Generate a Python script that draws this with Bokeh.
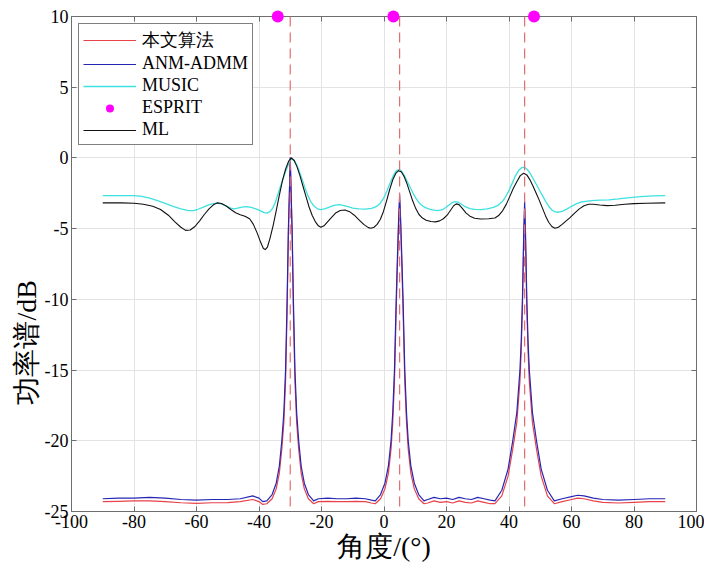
from bokeh.plotting import figure
from bokeh.models import (Span, Legend, LegendItem, LinearAxis, Title, Range1d,
                          FixedTicker)
from bokeh.embed import file_html
from bokeh.resources import INLINE

# ---------------- data ----------------
x_ticks = [-100, -80, -60, -40, -20, 0, 20, 40, 60, 80, 100]
y_ticks = [-25, -20, -15, -10, -5, 0, 5, 10]

true_angles = [-30, 5, 45]

esprit_angle = [-34, 3, 48]
esprit_level = [10, 10, 10]

# fine angle grid used by the two sparse-recovery methods
angle_fine = [
    -90, -85, -80, -75, -70, -65, -60, -55, -50, -46, -42, -40, -38.8,
    -37.5, -35.8, -34.5, -33.5, -32.7, -32.05, -31.5, -31.0, -30.6, -30.28, -30,
    -29.72, -29.4, -29.0, -28.5, -27.95, -27.3, -26.5, -25.5, -24.2, -22.5,
    -21, -18, -15, -12, -9, -6, -4,
    -2.8, -1.1, 0.3, 1.4, 2.25, 2.8, 3.35, 3.9, 4.3, 4.65, 5,
    5.35, 5.7, 6.1, 6.65, 7.2, 7.75, 8.6, 9.7, 11.1, 12.8,
    14, 16, 18, 20, 22, 24, 26, 28, 30, 32, 34,
    35.5, 37.7, 39.7, 41.2, 42.5, 43.5, 43.9, 44.3, 44.7, 45,
    45.3, 45.7, 46.1, 46.5, 47.5, 48.8, 50.3, 52.3, 54.5,
    57, 60, 62, 64, 67, 70, 75, 80, 85, 90,
]

anm_admm_db = [
    -24.1, -24.05, -24.05, -24.0, -24.05, -24.15, -24.2, -24.15, -24.15, -24.1, -23.9, -24.05, -24.3,
    -24.25, -23.8, -23.0, -21.8, -20.0, -18.0, -15.0, -10.0, -5.0, -2.5, 0.0,
    -2.5, -5.0, -10.0, -15.0, -18.0, -20.0, -21.8, -23.0, -23.8, -24.25,
    -24.1, -24.05, -24.1, -24.1, -24.05, -24.1, -24.2,
    -24.25, -23.8, -23.0, -21.8, -20.0, -18.0, -15.0, -10.0, -7.0, -4.5, -2.6,
    -4.5, -7.0, -10.0, -15.0, -18.0, -20.0, -21.8, -23.0, -23.8, -24.25,
    -24.15, -24.0, -24.1, -24.05, -24.15, -24.0, -24.1, -24.15, -24.0, -24.1, -24.2,
    -24.25, -23.5, -22.0, -20.0, -18.0, -15.0, -13.0, -10.0, -5.5, -3.1,
    -5.5, -10.0, -13.0, -15.0, -18.0, -20.0, -22.0, -23.5, -24.25,
    -24.1, -23.95, -23.85, -23.9, -24.05, -24.15, -24.2, -24.15, -24.1, -24.1,
]

proposed_db = [
    -24.3, -24.28, -24.25, -24.25, -24.3, -24.38, -24.42, -24.38, -24.37, -24.3, -24.15, -24.3, -24.5,
    -24.45, -24.1, -23.4, -22.3, -20.6, -18.7, -15.8, -10.8, -5.5, -2.7, 0.0,
    -2.7, -5.5, -10.8, -15.8, -18.7, -20.6, -22.3, -23.4, -24.1, -24.45,
    -24.3, -24.28, -24.3, -24.3, -24.28, -24.3, -24.4,
    -24.45, -24.1, -23.4, -22.3, -20.6, -18.7, -15.8, -10.8, -7.6, -5.0, -3.0,
    -5.0, -7.6, -10.8, -15.8, -18.7, -20.6, -22.3, -23.4, -24.1, -24.45,
    -24.4, -24.25, -24.35, -24.3, -24.4, -24.25, -24.35, -24.4, -24.25, -24.35, -24.45,
    -24.45, -23.9, -22.5, -20.6, -18.7, -15.8, -13.7, -10.6, -6.0, -3.5,
    -6.0, -10.6, -13.7, -15.8, -18.7, -20.6, -22.5, -23.9, -24.45,
    -24.3, -24.15, -24.05, -24.1, -24.25, -24.35, -24.4, -24.35, -24.3, -24.3,
]

ml_angle = [
    -90, -84, -80, -77, -74, -71.5, -69, -67, -65, -63.5, -62, -60.5, -59, -57.5,
    -56, -54.5, -53.4, -52, -50.5, -49, -47.5, -46, -44.5, -43, -41.8, -40.6,
    -39.5, -38.6, -38, -37.3, -36.5, -35.5, -34.5, -33.5, -32.5, -31.5, -30.5,
    -29.6, -28.7, -27.8, -26.9, -26, -25, -24, -23, -22, -21, -20.2, -19.2,
    -18.2, -17, -15.5, -14, -12.5, -11, -9.5, -8, -6.5, -5, -4.2, -3.2, -2.2,
    -1.2, -0.2, 0.8, 1.8, 2.8, 3.8, 4.7, 5.6, 6.5, 7.4, 8.3, 9.2, 10.2, 11.2,
    12.3, 13.5, 15, 16.5, 17.8, 19, 20.2, 21.3, 22.3, 23.1, 24, 25, 26.2, 27.5,
    29, 31, 33.5, 35.5, 36.8, 38, 39.2, 40.3, 41.4, 42.5, 43.6, 44.7, 45.7,
    46.7, 47.7, 48.7, 49.7, 50.7, 51.7, 52.7, 53.7, 54.7, 55.8, 57, 58.3, 59.6,
    61, 62.5, 64, 65.5, 67, 69, 71.4, 74, 77, 80, 84, 90,
]
ml_db = [
    -3.18, -3.18, -3.2, -3.27, -3.42, -3.65, -4.05, -4.5, -4.9, -5.12, -5.1, -4.85, -4.45, -4.0,
    -3.6, -3.3, -3.18, -3.22, -3.4, -3.65, -3.88, -4.02, -4.12, -4.3, -4.7, -5.3,
    -5.95, -6.4, -6.48, -6.3, -5.7, -4.8, -3.75, -2.65, -1.6, -0.8, -0.22,
    0.0, -0.2, -0.65, -1.25, -1.95, -2.7, -3.45, -4.05, -4.5, -4.8, -4.9, -4.8,
    -4.55, -4.25, -3.9, -3.72, -3.68, -3.8, -4.05, -4.38, -4.7, -4.93, -4.97, -4.9, -4.7,
    -4.35, -3.8, -3.05, -2.25, -1.55, -1.08, -0.9, -1.0, -1.35, -1.85, -2.45, -3.05, -3.6, -4.0,
    -4.25, -4.4, -4.5, -4.52, -4.45, -4.3, -4.05, -3.7, -3.38, -3.25, -3.3, -3.55, -3.88, -4.12,
    -4.27, -4.32, -4.3, -4.25, -4.05, -3.72, -3.25, -2.7, -2.15, -1.68, -1.25, -1.08, -1.2,
    -1.55, -2.0, -2.5, -3.0, -3.55, -4.1, -4.55, -4.85, -4.97, -4.9, -4.7, -4.45, -4.2,
    -3.9, -3.6, -3.38, -3.27, -3.27, -3.33, -3.37, -3.35, -3.28, -3.23, -3.2, -3.18,
]

music_angle = [
    -90, -84, -80, -77.5, -75, -72.5, -70, -67.5, -65, -62.5, -61, -59.5, -58,
    -56.5, -55, -53.4, -52, -50.5, -49, -48, -46.8, -45.5, -44, -42.5, -41,
    -39.5, -38.3, -37.4, -36.5, -35.6, -34.8, -34, -33.1, -32.2, -31.3, -30.4,
    -29.6, -28.8, -28, -27.1, -26.2, -25.3, -24.4, -23.4, -22.4, -21.3, -20.3,
    -19, -17.5, -16, -14.5, -13, -11.5, -10, -8, -6, -4, -2.5, -1.2, 0, 1, 2,
    3, 3.9, 4.7, 5.5, 6.4, 7.3, 8.2, 9.2, 10.2, 11.3, 12.5, 14, 15.5, 17, 18.5,
    19.8, 21, 22, 22.8, 23.7, 24.8, 26, 27.5, 29, 31, 33, 35, 36.5, 37.7, 38.8,
    39.9, 41, 42.1, 43.2, 44.1, 44.9, 45.8, 46.8, 47.8, 48.8, 49.8, 50.8, 51.8,
    52.8, 53.8, 54.8, 55.8, 57, 58.5, 60, 61.5, 63, 64.5, 66.5, 69, 72, 75, 78,
    82, 86, 90,
]
music_db = [
    -2.67, -2.66, -2.67, -2.72, -2.85, -3.02, -3.22, -3.43, -3.6, -3.72, -3.72, -3.63, -3.5,
    -3.36, -3.25, -3.2, -3.25, -3.4, -3.55, -3.6, -3.55, -3.48, -3.45, -3.5, -3.6,
    -3.75, -3.87, -3.9, -3.8, -3.55, -3.15, -2.6, -2.0, -1.4, -0.85, -0.35,
    -0.07, -0.15, -0.45, -0.95, -1.5, -2.1, -2.65, -3.1, -3.4, -3.6, -3.65,
    -3.6, -3.48, -3.35, -3.3, -3.35, -3.45, -3.55, -3.6, -3.62, -3.56, -3.45, -3.2, -2.8, -2.3, -1.75,
    -1.25, -0.92, -0.83, -0.9, -1.2, -1.6, -2.0, -2.45, -2.85, -3.2, -3.42, -3.58, -3.68, -3.73, -3.68,
    -3.5, -3.3, -3.14, -3.09, -3.12, -3.28, -3.45, -3.58, -3.64, -3.65, -3.6, -3.5, -3.35, -3.12, -2.8,
    -2.35, -1.8, -1.25, -0.85, -0.68, -0.66, -0.8, -1.1, -1.5, -1.9, -2.3, -2.7, -3.1,
    -3.45, -3.7, -3.82, -3.84, -3.78, -3.62, -3.42, -3.25, -3.13, -3.07, -3.02, -2.98, -2.96, -2.9, -2.82,
    -2.73, -2.69, -2.67,
]

legend_labels = ["本文算法", "ANM-ADMM", "MUSIC", "ESPRIT", "ML"]

# ---------------- style ----------------
SERIF = "Liberation Serif"
AX = "#6e6e6e"
C_RED = "#e8424a"
C_BLUE = "#2626b4"
C_CYAN = "#3fe0e0"
C_BLACK = "#111111"
C_MAG = "#ff00ff"
C_DASH = "#e36e6e"

p = figure(frame_width=625, frame_height=495,
           x_range=Range1d(-100, 100), y_range=Range1d(-25, 10),
           output_backend="svg", toolbar_location=None,
           min_border_left=71, min_border_right=8,
           min_border_top=16, min_border_bottom=52)
p.background_fill_color = "white"
p.border_fill_color = "white"
p.outline_line_color = AX
p.outline_line_width = 1

for ax in (p.xaxis[0], p.yaxis[0]):
    ax.axis_line_color = AX
    ax.major_tick_line_color = AX
    ax.major_tick_in = 5
    ax.major_tick_out = 0
    ax.minor_tick_line_color = None
    ax.major_label_text_font = SERIF
    ax.major_label_text_font_size = "18px"
    ax.major_label_text_color = "black"
    ax.axis_label_text_font = SERIF
    ax.axis_label_text_font_style = "normal"
    ax.axis_label_text_font_size = "28px"
    ax.axis_label_text_color = "black"

p.xaxis[0].ticker = FixedTicker(ticks=x_ticks)
p.yaxis[0].ticker = FixedTicker(ticks=y_ticks)
p.xaxis[0].major_label_overrides = {t: str(t) for t in x_ticks}
p.yaxis[0].major_label_overrides = {t: str(t) for t in y_ticks}
p.xaxis[0].major_label_standoff = 3
p.yaxis[0].major_label_standoff = 3
p.xaxis[0].axis_label = "角度/(°)"
p.xaxis[0].axis_label_standoff = 0

# top and right axes: ticks only
top = LinearAxis(ticker=FixedTicker(ticks=x_ticks))
right = LinearAxis(ticker=FixedTicker(ticks=y_ticks))
for ax in (top, right):
    ax.axis_line_color = AX
    ax.major_tick_line_color = AX
    ax.major_tick_in = 5
    ax.major_tick_out = 0
    ax.minor_tick_line_color = None
    ax.major_label_text_color = None
    ax.major_label_standoff = 0
p.add_layout(top, "above")
p.add_layout(right, "right")

ylab = Title(text="功率谱/dB", align="left", offset=107,
             text_font=SERIF, text_font_size="28px",
             text_font_style="normal", text_color="black", standoff=0)
p.add_layout(ylab, "left")

p.xgrid.ticker = FixedTicker(ticks=x_ticks)
p.ygrid.ticker = FixedTicker(ticks=y_ticks)
p.grid.grid_line_color = "#e3e3e3"
p.grid.grid_line_width = 1

# ---------------- glyphs ----------------
r_prop = p.line(angle_fine, proposed_db, line_color=C_RED, line_width=1.2,
                line_join="round")
r_anm = p.line(angle_fine, anm_admm_db, line_color=C_BLUE, line_width=1.2,
               line_join="round")
r_music = p.line(music_angle, music_db, line_color=C_CYAN, line_width=1.3,
                 line_join="round")
r_ml = p.line(ml_angle, ml_db, line_color=C_BLACK, line_width=1.1,
              line_join="round")
r_esp = p.scatter(esprit_angle, esprit_level, size=12, fill_color=C_MAG,
                  line_color=None, level="overlay")

for a in true_angles:
    p.add_layout(Span(location=a, dimension="height", line_color=C_DASH,
                      line_width=1.2, line_dash="10 6"))

legend = Legend(items=[
    LegendItem(label=legend_labels[0], renderers=[r_prop]),
    LegendItem(label=legend_labels[1], renderers=[r_anm]),
    LegendItem(label=legend_labels[2], renderers=[r_music]),
    LegendItem(label=legend_labels[3], renderers=[r_esp]),
    LegendItem(label=legend_labels[4], renderers=[r_ml]),
], location="top_left")
legend.margin = 7
legend.padding = 4
legend.spacing = 1
legend.glyph_width = 53
legend.glyph_height = 20
legend.label_height = 20
legend.label_standoff = 6
legend.label_text_font = SERIF
legend.label_text_font_size = "18px"
legend.label_text_color = "black"
legend.border_line_color = "black"
legend.border_line_width = 1
legend.background_fill_color = "white"
legend.background_fill_alpha = 1
p.add_layout(legend)

open("out.html", "w").write(file_html(p, INLINE))
